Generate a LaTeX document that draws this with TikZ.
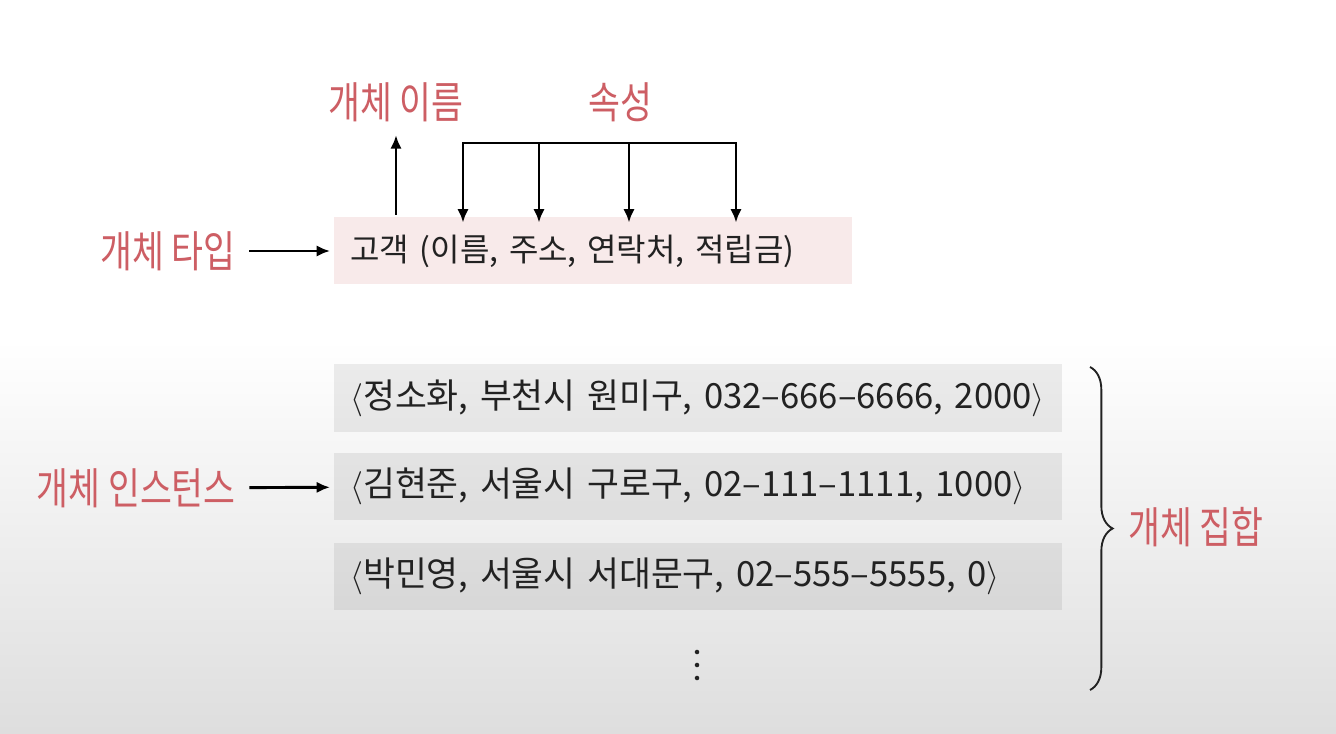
\documentclass[tikz,border=0pt]{standalone}
\usepackage{fontspec}
\setmainfont{Noto Sans CJK KR}
\newfontfamily\labelfont{Noto Sans CJK KR}[FakeStretch=0.8]
\usetikzlibrary{arrows.meta,decorations.pathreplacing}
\definecolor{labelred}{RGB}{205,94,100}
\definecolor{typepink}{RGB}{248,234,234}
\definecolor{inkgray}{RGB}{34,34,34}

\begin{document}
\begin{tikzpicture}[x=0.75pt, y=-0.75pt,
  lbl/.style = {font=\labelfont\fontsize{32.5}{38}\selectfont, text=labelred, inner sep=0pt},
  rec/.style = {font=\fontsize{24}{30}\selectfont, text=inkgray, anchor=west, align=left,
                inner xsep=12pt, inner ysep=0pt, minimum height=50.25pt},
  arr/.style = {-{Latex[length=10pt,width=8.5pt]}, line width=2.2pt}]
% background
\fill[white] (0,0) rectangle (1336,734);
\shade[top color=white, bottom color=black!13] (0,340) rectangle (1336,734);
\useasboundingbox (0,0) rectangle (1336,734);

% entity type
\node[rec, fill=typepink, text width=364.5pt] (type) at (334,251) {고객 (이름, 주소, 연락처, 적립금)};
\node[lbl, anchor=east] (typelbl) at (236,251) {개체 타입};
\node[lbl] (namelbl) at (396,102) {개체 이름};
\node[lbl] (attrlbl) at (620,102) {속성};
\draw[arr, shorten <=10pt, shorten >=3pt] (typelbl) -- (type);
\draw[arr, shorten <=2pt, shorten >=10pt] (namelbl |- type.north) -- (namelbl);

% attributes
\coordinate (a1) at (463,143);
\coordinate (a2) at (539,143);
\coordinate (a3) at (629,143);
\coordinate (a4) at (736,143);
\draw[arr, {Latex[length=10pt,width=8.5pt]}-{Latex[length=10pt,width=8.5pt]}, shorten <=-4pt, shorten >=-4pt]
  (a1 |- type.north) -- (a1) -- (a4) -- (a4 |- type.north);
\foreach \a in {a2,a3}
  \draw[arr, shorten >=-4pt] (\a) -- (\a |- type.north);

% entity instances
\node[rec, font=\fontsize{26}{30}\selectfont, fill=black, fill opacity=0.07, text opacity=1, text width=522pt] (r1) at (334,398)
  {$\langle$정소화, 부천시 원미구, 032–666–6666, 2000$\rangle$};
\node[rec, font=\fontsize{26}{30}\selectfont, fill=black, fill opacity=0.07, text opacity=1, text width=522pt] (r2) at (334,486)
  {$\langle$김현준, 서울시 구로구, 02–111–1111, 1000$\rangle$};
\node[rec, font=\fontsize{26}{30}\selectfont, fill=black, fill opacity=0.07, text opacity=1, text width=522pt] (r3) at (334,576)
  {$\langle$박민영, 서울시 서대문구, 02–555–5555, 0$\rangle$};
\node[lbl, anchor=east] (instlbl) at (236,488) {개체 인스턴스};
\draw[arr, shorten <=10pt, shorten >=3pt] (instlbl) -- (r2);
\foreach \y in {652,665,678}
  \fill[inkgray] (697,\y) circle (1.7pt);

% entity set
\coordinate (bracetop) at (1090,367);
\coordinate (bracebot) at (1090,690);
\draw[inkgray, line width=1.4pt, decorate, decoration={brace, amplitude=17pt}] (bracetop) -- (bracebot);
\node[lbl, anchor=west] (setlbl) at (1128,527) {개체 집합};
\end{tikzpicture}
\end{document}
